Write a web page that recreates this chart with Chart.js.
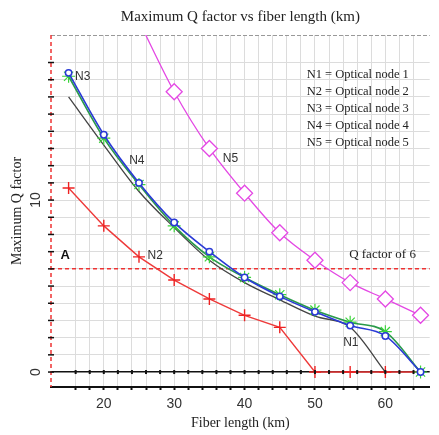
<!DOCTYPE html>
<html>
<head>
<meta charset="utf-8">
<script src="https://cdn.jsdelivr.net/npm/chart.js@4"></script>
<style>
  html, body { margin: 0; padding: 0; background: #fff; }
  #wrap { width: 439px; height: 435px; position: relative; }
</style>
</head>
<body>
<div id="wrap"><canvas id="qchart"></canvas></div>
<script>
// values (km, Q)
const fiberLength = [15, 20, 25, 30, 35, 40, 45, 50, 55, 60, 65];
const qNode1 = [16.0, 13.2, 10.5, 8.4, 6.5, 5.2, 4.2, 3.25, 2.6, 0, null];
const qNode2 = [10.7, 8.5, 6.7, 5.35, 4.25, 3.3, 2.6, 0, 0, 0, 0];
const qNode3 = [17.2, 13.6, 10.9, 8.5, 6.7, 5.5, 4.5, 3.6, 2.9, 2.35, 0];
const qNode4 = [17.4, 13.8, 11.0, 8.7, 7.0, 5.5, 4.4, 3.5, 2.7, 2.1, 0];
const qNode5 = [null, null, 20.4, 16.3, 13.0, 10.4, 8.1, 6.5, 5.2, 4.25, 3.3];
const xTickLabels = [20, 30, 40, 50, 60];
const yTickLabels = [0, 10];
const qThreshold = 6;
const legendLines = ['N1 = Optical node 1', 'N2 = Optical node 2', 'N3 = Optical node 3',
  'N4 = Optical node 4', 'N5 = Optical node 5'];
// curve tags, placed in data units
const curveTags = [
  { text: 'N3', x: 17.0, y: 17.15 },
  { text: 'N4', x: 24.7, y: 12.3 },
  { text: 'N5', x: 38.0, y: 12.4 },
  { text: 'N2', x: 27.3, y: 6.75 },
  { text: 'N1', x: 55.1, y: 1.7 }
];

const pts = (arr) => fiberLength.map((x, i) => ({ x: x, y: arr[i] }));
const serif = 'Liberation Serif, Times New Roman, serif';
const sans = 'Liberation Sans, Arial, sans-serif';

const decor = {
  id: 'decor',
  beforeDatasetsDraw(chart) {
    const { ctx, chartArea: a, scales: { y } } = chart;
    ctx.save();
    // top border, dashed grey
    ctx.strokeStyle = '#999';
    ctx.lineWidth = 1;
    ctx.setLineDash([4, 2]);
    ctx.beginPath();
    ctx.moveTo(a.left, a.top + 0.5);
    ctx.lineTo(a.right, a.top + 0.5);
    ctx.stroke();
    // Q = 6 reference line
    const yq = y.getPixelForValue(qThreshold);
    ctx.strokeStyle = '#e33';
    ctx.lineWidth = 1.5;
    ctx.setLineDash([4, 3]);
    ctx.beginPath();
    ctx.moveTo(a.left, yq);
    ctx.lineTo(a.right, yq);
    ctx.stroke();
    // left axis, red dashed
    ctx.beginPath();
    ctx.moveTo(a.left, a.top);
    ctx.lineTo(a.left, a.bottom);
    ctx.stroke();
    ctx.restore();
  },
  afterDatasetsDraw(chart) {
    const { ctx, chartArea: a, scales: { x, y } } = chart;
    ctx.save();
    // little tick marks on the zero line and on the left axis
    const y0 = y.getPixelForValue(0);
    ctx.strokeStyle = '#111';
    ctx.lineWidth = 2;
    x.ticks.forEach((t) => {
      const px = x.getPixelForValue(t.value);
      ctx.beginPath();
      ctx.moveTo(px, y0 - 2);
      ctx.lineTo(px, y0 + 2);
      ctx.stroke();
    });
    ctx.lineWidth = 1.5;
    y.ticks.forEach((t) => {
      const py = y.getPixelForValue(t.value);
      ctx.beginPath();
      ctx.moveTo(a.left - 3, py);
      ctx.lineTo(a.left + 3, py);
      ctx.stroke();
    });
    // rotated y tick labels
    ctx.fillStyle = '#333';
    ctx.font = '14px ' + sans;
    ctx.textAlign = 'center';
    ctx.textBaseline = 'middle';
    yTickLabels.forEach((v) => {
      ctx.save();
      ctx.translate(a.left - 15, y.getPixelForValue(v));
      ctx.rotate(-Math.PI / 2);
      ctx.fillText(String(v), 0, 0);
      ctx.restore();
    });
    // curve tags
    ctx.font = '12px ' + sans;
    ctx.fillStyle = '#333';
    curveTags.forEach((t) => {
      ctx.fillText(t.text, x.getPixelForValue(t.x), y.getPixelForValue(t.y));
    });
    ctx.font = 'bold 13px ' + sans;
    ctx.fillStyle = '#111';
    ctx.fillText('A', x.getPixelForValue(14.5), y.getPixelForValue(6.8));
    ctx.font = '13px ' + serif;
    ctx.fillStyle = '#222';
    ctx.fillText('Q factor of ' + qThreshold, x.getPixelForValue(59.6), y.getPixelForValue(6.85));
    // legend block
    ctx.textAlign = 'left';
    ctx.font = '12.5px ' + serif;
    legendLines.forEach((line, i) => {
      ctx.fillText(line, a.right - 123, a.top + 40 + i * 17);
    });
    ctx.restore();
  }
};

new Chart(document.getElementById('qchart'), {
  type: 'line',
  data: {
    datasets: [
      {
        label: 'N4', data: pts(qNode4),
        borderColor: '#2a3ad6', borderWidth: 1.6,
        pointStyle: 'circle', pointRadius: 3.2, pointBorderWidth: 1.5,
        pointBackgroundColor: '#fff', pointBorderColor: '#2a3ad6',
        cubicInterpolationMode: 'monotone'
      },
      {
        label: 'N3', data: pts(qNode3),
        borderColor: '#2a9a4a', borderWidth: 1.6,
        pointStyle: 'star', pointRadius: 6.5, pointBorderWidth: 1.2,
        pointBorderColor: '#3ad43a',
        cubicInterpolationMode: 'monotone'
      },
      {
        label: 'N1', data: pts(qNode1),
        borderColor: '#444', borderWidth: 1.3, pointRadius: 0,
        cubicInterpolationMode: 'monotone'
      },
      {
        label: 'N2', data: pts(qNode2),
        borderColor: '#ee3a3a', borderWidth: 1.4,
        pointStyle: 'cross', pointRadius: [6, 6, 6, 6, 6, 6, 6, 6, 6, 6, 0],
        pointBorderWidth: 1.4, pointBorderColor: '#ee2222',
        tension: 0
      },
      {
        label: 'N5', data: pts(qNode5),
        borderColor: '#e448e4', borderWidth: 1.3,
        pointStyle: 'rectRot', pointRadius: 8, pointBorderWidth: 1.3,
        pointBackgroundColor: '#fff', pointBorderColor: '#e448e4',
        cubicInterpolationMode: 'monotone'
      }
    ]
  },
  options: {
    responsive: true,
    maintainAspectRatio: false,
    animation: false,
    layout: { padding: { top: 0, right: 1, bottom: 0, left: 0 } },
    plugins: {
      legend: { display: false },
      tooltip: { enabled: false },
      title: {
        display: true,
        fullSize: false,
        text: 'Maximum Q factor vs fiber length (km)',
        color: '#222',
        font: { family: serif, size: 15, weight: 'normal' },
        padding: { top: 8, bottom: 9 }
      }
    },
    scales: {
      x: {
        type: 'linear',
        min: 12.5,
        max: 66.3,
        afterFit: (s) => { s.height = 48; },
        afterBuildTicks: (s) => { s.ticks = s.ticks.filter((t) => t.value % 2 === 0); },
        ticks: {
          stepSize: 2,
          autoSkip: false,
          maxRotation: 0,
          padding: 6,
          color: '#333',
          font: { family: sans, size: 14 },
          callback: (v) => (xTickLabels.includes(v) ? String(v) : '')
        },
        grid: { color: '#dcdcdc', lineWidth: 1, tickLength: 3, tickColor: '#111', tickWidth: 2 },
        border: { color: '#111', width: 2 },
        title: {
          display: true,
          text: 'Fiber length (km)',
          color: '#222',
          font: { family: serif, size: 14 },
          padding: { top: 0, bottom: 3 }
        }
      },
      y: {
        type: 'linear',
        min: -0.87,
        max: 19.6,
        afterFit: (s) => { s.width = 51; },
        afterBuildTicks: (s) => { s.ticks = s.ticks.filter((t) => t.value >= 0 && Number.isInteger(t.value)); },
        ticks: { stepSize: 1, display: false },
        grid: {
          color: (c) => (c.tick && c.tick.value === 0 ? '#111' : '#dcdcdc'),
          lineWidth: (c) => (c.tick && c.tick.value === 0 ? 1.6 : 1),
          drawTicks: false
        },
        border: { display: false },
        title: {
          display: true,
          text: 'Maximum Q factor',
          color: '#222',
          font: { family: serif, size: 14 },
          padding: { top: 9, bottom: 0 }
        }
      }
    }
  },
  plugins: [decor]
});
</script>
</body>
</html>
